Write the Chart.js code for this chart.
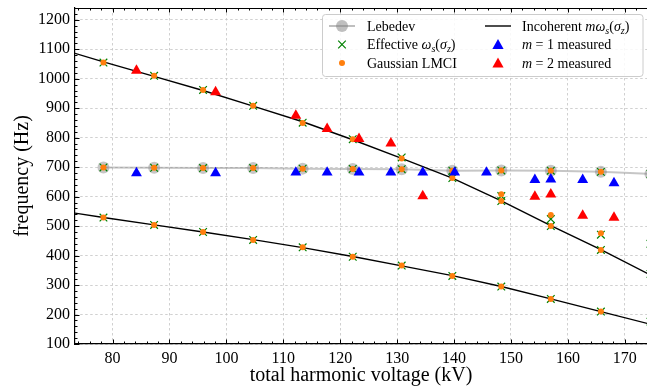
<!DOCTYPE html>
<html>
<head>
<meta charset="utf-8">
<script src="https://cdn.jsdelivr.net/npm/chart.js@4.4.0/dist/chart.umd.min.js"></script>
<style>
  html, body { margin: 0; padding: 0; background: #fff; }
</style>
</head>
<body>
<canvas id="c" width="647" height="388"></canvas>
<script>
// values
const voltage = [78.4, 87.3, 95.9, 104.7, 113.4, 122.2, 130.8, 139.7, 148.3, 157.0, 165.8, 174.5];

const lebedev    = [699, 698, 697, 697, 695, 694, 693, 688, 689, 688, 684, 677];

// effective omega_s(sigma_z), one array per branch
const effLebRow  = [699, 698, 697, 697, 695, 694, 693, 688, 689, 688, 684, 677];
const effUpper   = [1055, 1010, 962, 908, 851, 795, 733, 663, 585, 500, 419, 338];
const effLower   = [529, 504, 480, 453, 428, 396, 366, 331, 295, 253, 210, 176];
const effExtra   = [null, null, null, null, null, null, null, null, 602, 524, 471, 440];

// gaussian LMCI
const gaussLebRow = [699, 698, 697, 697, 695, 694, 693, 688, 689, 688, 684, 677];
const gaussUpper  = [1055, 1010, 962, 908, 850, 795, 729, 663, 585, 500, 419, 338];
const gaussLower  = [529, 504, 480, 453, 428, 396, 366, 331, 295, 253, 210, 176];
const gaussExtra  = [null, null, null, null, null, null, null, null, 608, 538, 476, 440];

// incoherent m*omega_s(sigma_z)
const incohVoltage = [73.4, 78.4, 87.3, 95.9, 104.7, 113.4, 122.2, 130.8, 139.7, 148.3, 157.0, 165.8, 174.5];
const incohM1 = [544, 529, 504, 480, 454, 427, 397, 365, 332, 295, 253, 210, 167];
const incohM2 = [1086, 1057, 1008, 960, 907, 854, 793, 730, 663, 586, 502, 420, 334];

// measurements
const m1Voltage = [84.2, 98.1, 112.2, 117.7, 123.3, 128.9, 134.5, 140.1, 145.7, 154.2, 157.0, 162.6, 168.1];
const m1Freq    = [680, 680, 682, 682, 682, 682, 682, 682, 682, 657, 659, 657, 646];
const m2Voltage = [84.2, 98.1, 112.2, 117.7, 123.3, 128.9, 134.5, 154.2, 157.0, 162.6, 168.1];
const m2Freq    = [1028, 955, 875, 830, 796, 781, 602, 600, 608, 536, 529];

const xTicks = [80, 90, 100, 110, 120, 130, 140, 150, 160, 170];
const yTicks = [100, 200, 300, 400, 500, 600, 700, 800, 900, 1000, 1100, 1200];

const SERIF = '"Liberation Serif", "DejaVu Serif", serif';

function pts(xs, ys) {
  const out = [];
  xs.forEach((x, i) => { if (ys[i] !== null) out.push({ x: x, y: ys[i] }); });
  return out;
}

// draws text made of roman / italic / subscript pieces
function drawRich(ctx, x, y, parts, size) {
  parts.forEach(p => {
    const s = p.sub ? size * 0.72 : size;
    ctx.font = (p.it ? 'italic ' : '') + s + 'px ' + SERIF;
    ctx.fillText(p.t, x, y + (p.sub ? size * 0.22 : 0));
    x += ctx.measureText(p.t).width;
  });
}

// matplotlib-like frame: top spine, inward major/minor ticks, legend box
const mplFrame = {
  id: 'mplFrame',
  afterDraw(chart) {
    const { ctx, chartArea: a, scales: { x, y } } = chart;
    ctx.save();
    ctx.strokeStyle = '#000';
    ctx.lineWidth = 1;
    ctx.beginPath();
    ctx.moveTo(a.left, a.top + 0.5);
    ctx.lineTo(a.right, a.top + 0.5);
    for (let v = Math.ceil(x.min / 2) * 2; v <= x.max; v += 2) {
      const px = Math.round(x.getPixelForValue(v)) + 0.5;
      const len = v % 10 === 0 ? 4.5 : 2.5;
      ctx.moveTo(px, a.bottom); ctx.lineTo(px, a.bottom - len);
      ctx.moveTo(px, a.top); ctx.lineTo(px, a.top + len);
    }
    for (let v = 100; v <= y.max; v += 20) {
      const py = Math.round(y.getPixelForValue(v)) + 0.5;
      const len = v % 100 === 0 ? 4.5 : 2.5;
      ctx.moveTo(a.left, py); ctx.lineTo(a.left + len, py);
    }
    ctx.stroke();

    // legend
    const bx = 322.5, by = 14.5, bw = 320.5, bh = 62;
    ctx.beginPath();
    ctx.roundRect(bx, by, bw, bh, 3);
    ctx.fillStyle = 'rgba(255,255,255,0.85)';
    ctx.fill();
    ctx.strokeStyle = '#cccccc';
    ctx.lineWidth = 1;
    ctx.stroke();

    const rows = [26, 44.5, 63];
    const c1m = 342, c1t = 367, c2m = 498, c2t = 522;
    const fs = 14;

    // Lebedev
    ctx.strokeStyle = 'rgba(128,128,128,0.5)';
    ctx.lineWidth = 2;
    ctx.beginPath(); ctx.moveTo(c1m - 13, rows[0]); ctx.lineTo(c1m + 13, rows[0]); ctx.stroke();
    ctx.fillStyle = 'rgba(128,128,128,0.5)';
    ctx.beginPath(); ctx.arc(c1m, rows[0], 6, 0, Math.PI * 2); ctx.fill();
    // effective
    ctx.strokeStyle = '#008000';
    ctx.lineWidth = 1.2;
    ctx.beginPath();
    ctx.moveTo(c1m - 3.8, rows[1] - 3.8); ctx.lineTo(c1m + 3.8, rows[1] + 3.8);
    ctx.moveTo(c1m - 3.8, rows[1] + 3.8); ctx.lineTo(c1m + 3.8, rows[1] - 3.8);
    ctx.stroke();
    // gaussian
    ctx.fillStyle = '#ff7f0e';
    ctx.beginPath(); ctx.arc(c1m, rows[2], 3, 0, Math.PI * 2); ctx.fill();
    // incoherent
    ctx.strokeStyle = '#000';
    ctx.lineWidth = 1.4;
    ctx.beginPath(); ctx.moveTo(c2m - 13, rows[0]); ctx.lineTo(c2m + 13, rows[0]); ctx.stroke();
    // triangles
    [['#0000ff', rows[1]], ['#ff0000', rows[2]]].forEach(([col, ry]) => {
      ctx.fillStyle = col;
      ctx.beginPath();
      ctx.moveTo(c2m, ry - 5.5);
      ctx.lineTo(c2m + 5.6, ry + 4.5);
      ctx.lineTo(c2m - 5.6, ry + 4.5);
      ctx.closePath();
      ctx.fill();
    });

    ctx.fillStyle = '#000';
    ctx.textBaseline = 'alphabetic';
    ctx.textAlign = 'left';
    const base = fs * 0.33;
    drawRich(ctx, c1t, rows[0] + base, [{ t: 'Lebedev' }], fs);
    drawRich(ctx, c1t, rows[1] + base, [
      { t: 'Effective ' }, { t: 'ω', it: true }, { t: 's', it: true, sub: true },
      { t: '(' }, { t: 'σ', it: true }, { t: 'z', it: true, sub: true }, { t: ')' }], fs);
    drawRich(ctx, c1t, rows[2] + base, [{ t: 'Gaussian LMCI' }], fs);
    drawRich(ctx, c2t, rows[0] + base, [
      { t: 'Incoherent ' }, { t: 'mω', it: true }, { t: 's', it: true, sub: true },
      { t: '(' }, { t: 'σ', it: true }, { t: 'z', it: true, sub: true }, { t: ')' }], fs);
    drawRich(ctx, c2t, rows[1] + base, [{ t: 'm', it: true }, { t: ' = 1 measured' }], fs);
    drawRich(ctx, c2t, rows[2] + base, [{ t: 'm', it: true }, { t: ' = 2 measured' }], fs);
    ctx.restore();
  }
};

const tickFont = { family: SERIF, size: 16 };
const titleFont = { family: SERIF, size: 20 };

new Chart(document.getElementById('c'), {
  type: 'scatter',
  data: {
    datasets: [
      {
        label: 'm = 2 measured',
        data: pts(m2Voltage, m2Freq),
        pointStyle: 'triangle',
        pointRadius: 6.3,
        backgroundColor: '#ff0000',
        borderWidth: 0,
        order: 1
      },
      {
        label: 'm = 1 measured',
        data: pts(m1Voltage, m1Freq),
        pointStyle: 'triangle',
        pointRadius: 6.3,
        backgroundColor: '#0000ff',
        borderWidth: 0,
        order: 1
      },
      {
        label: 'Gaussian LMCI',
        data: [].concat(pts(voltage, gaussLebRow), pts(voltage, gaussUpper),
                        pts(voltage, gaussLower), pts(voltage, gaussExtra)),
        pointStyle: 'circle',
        pointRadius: 3,
        backgroundColor: '#ff7f0e',
        borderWidth: 0,
        order: 2
      },
      {
        label: 'Effective',
        data: [].concat(pts(voltage, effLebRow), pts(voltage, effUpper),
                        pts(voltage, effLower), pts(voltage, effExtra)),
        pointStyle: 'crossRot',
        pointRadius: 5.4,
        borderColor: '#008000',
        borderWidth: 1.2,
        order: 3
      },
      {
        label: 'Incoherent m=2',
        data: pts(incohVoltage, incohM2),
        showLine: true,
        pointRadius: 0,
        borderColor: '#000',
        borderWidth: 1.4,
        order: 4
      },
      {
        label: 'Incoherent m=1',
        data: pts(incohVoltage, incohM1),
        showLine: true,
        pointRadius: 0,
        borderColor: '#000',
        borderWidth: 1.4,
        order: 4
      },
      {
        label: 'Lebedev',
        data: pts(voltage, lebedev),
        showLine: true,
        borderColor: 'rgba(128,128,128,0.45)',
        borderWidth: 2,
        pointRadius: 6,
        pointBackgroundColor: 'rgba(128,128,128,0.45)',
        pointBorderWidth: 0,
        order: 5
      }
    ]
  },
  options: {
    responsive: false,
    animation: false,
    layout: { autoPadding: false, padding: { top: 8, right: 0, bottom: 0, left: 0 } },
    plugins: {
      legend: { display: false },
      tooltip: { enabled: false }
    },
    scales: {
      x: {
        type: 'linear',
        min: 73.4,
        max: 173.9,
        afterBuildTicks: s => { s.ticks = xTicks.map(v => ({ value: v })); },
        afterFit: s => { s.height = 44; s.paddingLeft = 0; s.paddingRight = 0; },
        ticks: { font: tickFont, color: '#000', padding: 5, maxRotation: 0, autoSkip: false,
                 callback: v => String(v) },
        grid: { color: '#c4c4c4', lineWidth: 0.8, drawTicks: false },
        border: { color: '#000', width: 1.2, dash: [2.5, 2.5] },
        title: { display: true, text: 'total harmonic voltage (kV)', font: titleFont, color: '#000',
                 padding: { top: 0, bottom: 0 } }
      },
      y: {
        type: 'linear',
        min: 100,
        max: 1240,
        afterBuildTicks: s => { s.ticks = yTicks.map(v => ({ value: v })); },
        afterFit: s => { s.width = 75; s.paddingTop = 0; s.paddingBottom = 0; },
        ticks: { font: tickFont, color: '#000', padding: 5, autoSkip: false,
                 callback: v => String(v) },
        grid: { color: '#c4c4c4', lineWidth: 0.8, drawTicks: false },
        border: { color: '#000', width: 1.2, dash: [2.5, 2.5] },
        title: { display: true, text: 'frequency (Hz)', font: titleFont, color: '#000',
                 padding: { top: 11, bottom: 0 } }
      }
    }
  },
  plugins: [mplFrame]
});
</script>
</body>
</html>
